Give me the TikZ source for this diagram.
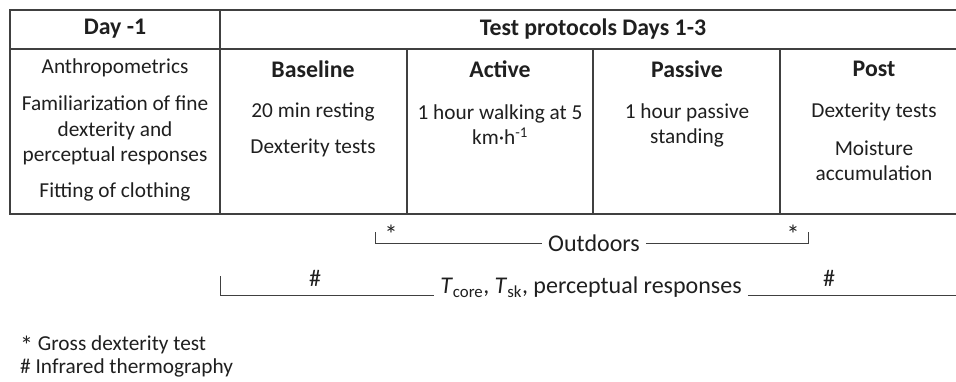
\documentclass[tikz,border=0pt]{standalone}
\usepackage{fontspec}
\setmainfont{Carlito}
\newcommand{\bigast}{\smash{\raisebox{-0.22em}{\fontsize{26}{26}\selectfont *}}}
\begin{document}
\begin{tikzpicture}[x=1pt,y=-1pt,
  txt/.style={inner sep=0pt, align=center, text=black!88, font=\fontsize{21.3}{25}\selectfont},
  big/.style={txt, font=\fontsize{24}{28}\selectfont},
  head/.style={txt, font=\fontsize{23.8}{28}\selectfont\bfseries},
  rule/.style={draw=black!75, line width=1.3pt}]
\useasboundingbox (0,0) rectangle (956,381);
% table frame
\draw[rule] (956,10) -- (10,10) -- (10,214) -- (956,214);
\draw[rule] (10,49) -- (956,49);
\draw[rule] (220,10) -- (220,214);
\draw[rule] (407,49) -- (407,214);
\draw[rule] (593,49) -- (593,214);
\draw[rule] (780,49) -- (780,214);
% headers
\node[head] (day) at (115,29) {Day -1};
\node[head] (tp) at (593,29) {Test protocols Days 1-3};
\node[head] (base) at (313,69) {Baseline};
\node[head] (act) at (500,69) {Active};
\node[head] (pas) at (687,69) {Passive};
\node[head] (post) at (874,69) {Post};
% day -1 column
\node[txt] (d1) at (115,68) {Anthropometrics};
\node[txt, font=\fontsize{21.3}{25.5}\selectfont] (d2) at (115,130.5) {Familiarization of fine\\dexterity and\\perceptual responses};
\node[txt] (d5) at (115,192) {Fitting of clothing};
% baseline
\node[txt] (b1) at (313,112) {20 min resting};
\node[txt] (b2) at (313,148) {Dexterity tests};
% active
\node[txt] (a1) at (500,125) {1 hour walking at 5\\km·h\textsuperscript{-1}};
% passive
\node[txt] (p1) at (687,125) {1 hour passive\\standing};
% post
\node[txt] (q1) at (874,112) {Dexterity tests};
\node[txt] (q2) at (874,161) {Moisture\\accumulation};
% outdoors bracket
\node[big, inner xsep=6pt] (out) at (594,243) {Outdoors};
\coordinate (oL) at (375,232);
\coordinate (oR) at (808,232);
\draw[rule, line width=1pt] (oL) |- (out.west);
\draw[rule, line width=1pt] (out.east) -| (oR);
\node[big] (s1) at (391,238) {\bigast};
\node[big] (s2) at (793,238) {\bigast};
% lower bracket
\node[big, inner xsep=6pt] (tc) at (591,287) {\textit{T}\textsubscript{core}, \textit{T}\textsubscript{sk}, perceptual responses};
\coordinate (tL) at (220,276);
\coordinate (tR) at (956,295);
\draw[rule, line width=1pt] (tL) |- (tc.west |- tR);
\draw[rule, line width=1pt] (tc.east |- tR) -- (tR);
\node[big] (h1) at (315,278) {\#};
\node[big] (h2) at (829,278) {\#};
% footnotes
\node[txt, align=left, anchor=base west, font=\fontsize{21.3}{23}\selectfont] (f1) at (20,373) {\bigast\ Gross dexterity test\\\# Infrared thermography};
\end{tikzpicture}
\end{document}
